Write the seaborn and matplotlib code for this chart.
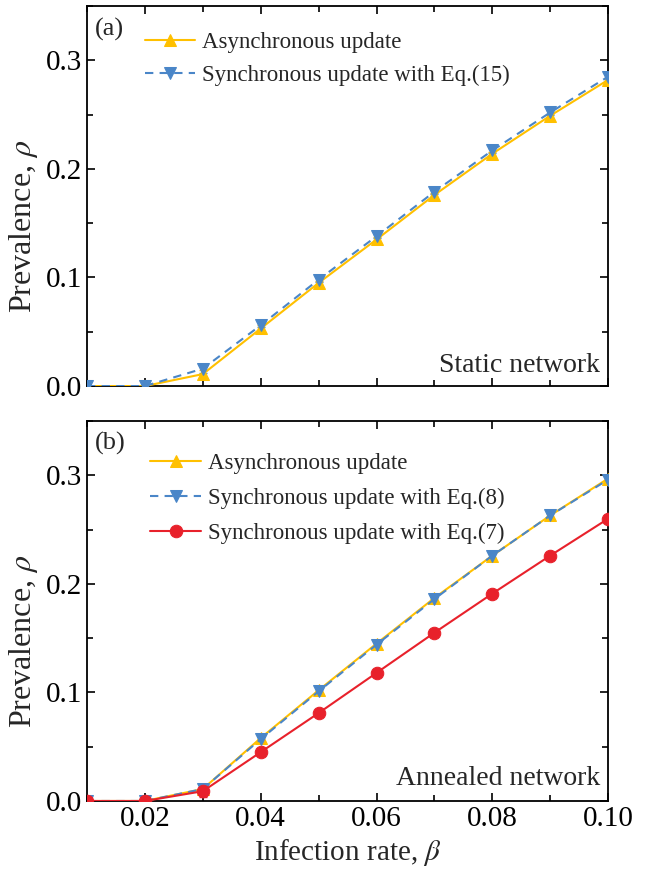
import numpy as np
import pandas as pd
import seaborn as sns
import matplotlib
matplotlib.use("Agg")
import matplotlib.pyplot as plt
from matplotlib.ticker import MultipleLocator, FormatStrFormatter

sns.set_theme(style="ticks")
plt.rcParams['font.family'] = ['Liberation Serif', 'DejaVu Serif']
plt.rcParams['mathtext.fontset'] = 'stix'

beta = [0.01, 0.02, 0.03, 0.04, 0.05, 0.06, 0.07, 0.08, 0.09, 0.10]

a_async = [0.0, 0.0, 0.011, 0.053, 0.095, 0.135, 0.176, 0.214, 0.249, 0.282]
a_sync15 = [0.0, 0.0, 0.016, 0.056, 0.098, 0.138, 0.179, 0.217, 0.252, 0.285]
a_async_err = [0.0, 0.0, 0.004, 0.003, 0.002, 0.002, 0.002, 0.002, 0.002, 0.002]
a_sync_err = [0.0, 0.0, 0.004, 0.002, 0.002, 0.002, 0.002, 0.002, 0.002, 0.002]

b_async = [0.0, 0.0, 0.011, 0.058, 0.102, 0.145, 0.187, 0.226, 0.263, 0.297]
b_sync8 = [0.0, 0.0, 0.011, 0.057, 0.101, 0.144, 0.186, 0.226, 0.263, 0.296]
b_sync7 = [0.0, 0.0, 0.009, 0.045, 0.081, 0.118, 0.155, 0.191, 0.226, 0.260]
b_err = [0.0, 0.0, 0.005, 0.002, 0.002, 0.002, 0.002, 0.002, 0.002, 0.002]

labels_a = ["Asynchronous update", "Synchronous update with Eq.(15)"]
labels_b = ["Asynchronous update", "Synchronous update with Eq.(8)",
            "Synchronous update with Eq.(7)"]

YEL = "#FFC000"
BLU = "#4A86C8"
RED = "#E8212B"

fig = plt.figure(figsize=(6.47, 8.73), dpi=100)
ax1 = fig.add_axes([0.1345, 0.5578, 0.8055, 0.4353])
ax2 = fig.add_axes([0.1345, 0.0825, 0.8055, 0.4353])

def draw(ax, x, y, err, color, marker, ls, label, ms=9):
    ax.errorbar(x, y, yerr=err, fmt='none', ecolor=color, elinewidth=1.0,
                capsize=3, zorder=2)
    sns.lineplot(x=x, y=y, ax=ax, color=color, marker=marker, linestyle=ls,
                 markersize=ms, markeredgecolor=color, linewidth=1.5,
                 label=label, zorder=3)

draw(ax1, beta, a_async, a_async_err, YEL, '^', '-', labels_a[0])
draw(ax1, beta, a_sync15, a_sync_err, BLU, 'v', (0, (4, 3)), labels_a[1])

draw(ax2, beta, b_async, b_err, YEL, '^', '-', labels_b[0])
draw(ax2, beta, b_sync8, b_err, BLU, 'v', (0, (4, 3)), labels_b[1])
draw(ax2, beta, b_sync7, b_err, RED, 'o', '-', labels_b[2])

for ax in (ax1, ax2):
    ax.set_xlim(0.01, 0.10)
    ax.set_ylim(0, 0.35)
    ax.xaxis.set_major_locator(MultipleLocator(0.02))
    ax.xaxis.set_minor_locator(MultipleLocator(0.01))
    ax.yaxis.set_major_locator(MultipleLocator(0.1))
    ax.yaxis.set_minor_locator(MultipleLocator(0.05))
    ax.xaxis.set_major_formatter(FormatStrFormatter('%.2f'))
    ax.yaxis.set_major_formatter(FormatStrFormatter('%.1f'))
    ax.tick_params(which='both', direction='in', top=True, right=True,
                   labelsize=21, width=1.2, colors='black')
    ax.tick_params(which='major', length=6)
    ax.tick_params(which='minor', length=4)
    for s in ax.spines.values():
        s.set_linewidth(1.3)
        s.set_color('black')
    ax.set_ylabel(r"Prevalence, $\rho$", fontsize=23)
    ax.yaxis.set_label_coords(-0.09, 0.42)
    ax.set_xlabel("")

ax1.legend(loc='upper left', bbox_to_anchor=(0.06, 1.0), frameon=False,
           fontsize=16.5, handlelength=2.2, handletextpad=0.3,
           labelspacing=0.5, borderaxespad=0.75)
ax2.legend(loc='upper left', bbox_to_anchor=(0.06, 1.0), frameon=False,
           fontsize=16.5, handlelength=2.2, handletextpad=0.3,
           labelspacing=0.6, borderaxespad=1.0)

ax1.tick_params(axis='x', labelbottom=False)
ax2.set_xlabel(r"Infection rate, $\beta$", fontsize=21, labelpad=4)

ax1.text(0.015, 0.97, "(a)", transform=ax1.transAxes, fontsize=19, va='top', ha='left')
ax2.text(0.015, 0.97, "(b)", transform=ax2.transAxes, fontsize=19, va='top', ha='left')
ax1.text(0.985, 0.02, "Static network", transform=ax1.transAxes, fontsize=20,
         va='bottom', ha='right')
ax2.text(0.985, 0.025, "Annealed network", transform=ax2.transAxes, fontsize=20,
         va='bottom', ha='right')

fig.savefig("out.png", dpi=100)
